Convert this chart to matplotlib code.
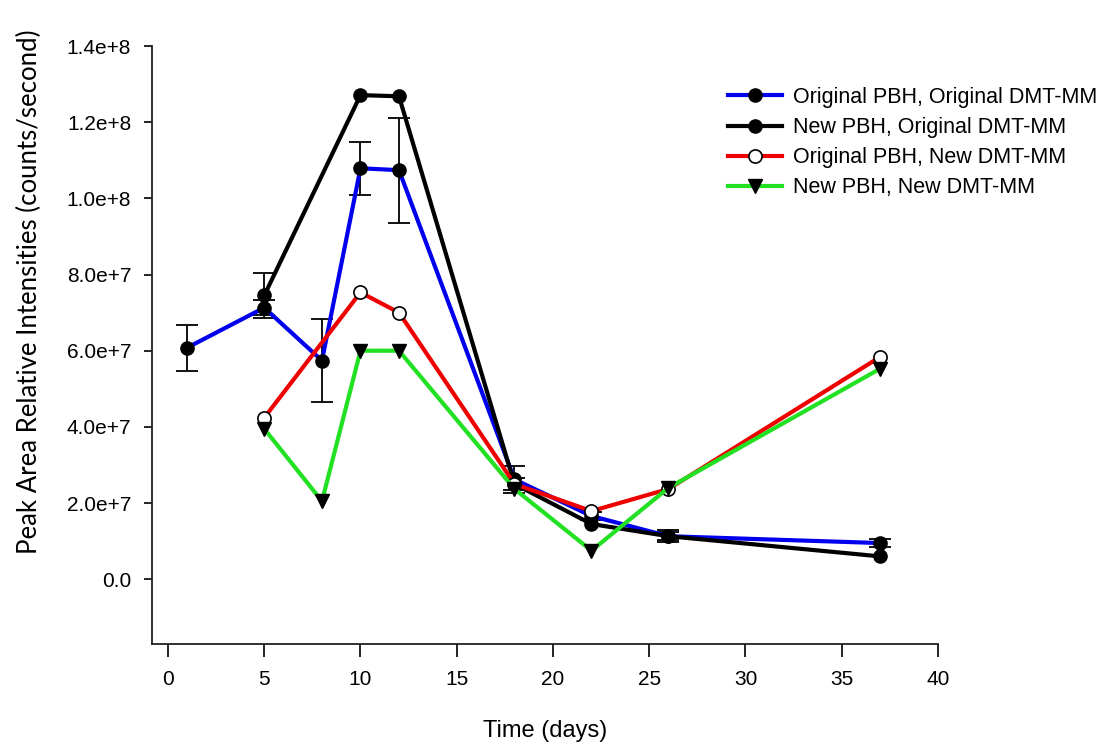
import matplotlib
matplotlib.use("Agg")
import matplotlib.pyplot as plt
import numpy as np

# ---- data ----
series_names = ["Original PBH, Original DMT-MM", "New PBH, Original DMT-MM",
                "Original PBH, New DMT-MM", "New PBH, New DMT-MM"]

x_blue = [1, 5, 8, 10, 12, 18, 22, 26, 37]
y_blue = [6.08e7, 7.13e7, 5.74e7, 1.079e8, 1.074e8, 2.62e7, 1.66e7, 1.13e7, 9.5e6]
e_blue = [0.6e7, 0.2e7, 1.08e7, 0.7e7, 1.38e7, 0.35e7, 0.1e7, 0.15e7, 0.1e7]

x_black = [5, 10, 12, 18, 22, 26, 37]
y_black = [7.45e7, 1.271e8, 1.268e8, 2.5e7, 1.45e7, 1.13e7, 6.0e6]
e_black = [0.6e7, 0, 0, 0.15e7, 0, 0.1e7, 0]

x_red = [5, 10, 12, 18, 22, 26, 37]
y_red = [4.24e7, 7.53e7, 7.0e7, 2.5e7, 1.79e7, 2.37e7, 5.84e7]

x_green = [5, 8, 10, 12, 18, 22, 26, 37]
y_green = [3.95e7, 2.05e7, 6.0e7, 6.0e7, 2.37e7, 7.5e6, 2.4e7, 5.53e7]

x_ticks = [0, 5, 10, 15, 20, 25, 30, 35, 40]
y_ticks = [0, 2e7, 4e7, 6e7, 8e7, 1.0e8, 1.2e8, 1.4e8]
y_tick_labels = ["0.0", "2.0e+7", "4.0e+7", "6.0e+7", "8.0e+7", "1.0e+8", "1.2e+8", "1.4e+8"]

plt.rcParams['font.family'] = ['Liberation Sans', 'DejaVu Sans']

fig = plt.figure(figsize=(11.07, 7.44), dpi=100)
ax = fig.add_axes([152/1107, 1-644/744, (938-152)/1107, (644-46)/744])

lw = 3.0
ms = 9.5
blue = '#0000ee'
red = '#ee0000'
green = '#22e022'


def errs(x, y, e):
    xs = [a for a, c in zip(x, e) if c > 0]
    ys = [b for b, c in zip(y, e) if c > 0]
    es = [c for c in e if c > 0]
    return xs, ys, es


xb, yb, eb = errs(x_blue, y_blue, e_blue)
ax.errorbar(xb, yb, yerr=eb, fmt='none', ecolor='black', elinewidth=1.3,
            capsize=8, capthick=1.3, zorder=1)
xk, yk, ek = errs(x_black, y_black, e_black)
ax.errorbar(xk, yk, yerr=ek, fmt='none', ecolor='black', elinewidth=1.3,
            capsize=8, capthick=1.3, zorder=1)

h1, = ax.plot(x_blue, y_blue, color=blue, lw=lw, marker='o', ms=ms,
              mfc='black', mec='black', label=series_names[0], zorder=2)
h2, = ax.plot(x_black, y_black, color='black', lw=lw, marker='o', ms=ms,
              mfc='black', mec='black', label=series_names[1], zorder=3)
h3, = ax.plot(x_red, y_red, color=red, lw=lw, marker='o', ms=ms, mfc='white', mec='black',
              mew=1.2, label=series_names[2], zorder=4)
h4, = ax.plot(x_green, y_green, color=green, lw=lw, marker='v', ms=ms + 1, mfc='black',
              mec='black', label=series_names[3], zorder=5)

ax.set_xlim(-0.83, 40)
ax.set_ylim(-1.7e7, 1.4e8)
ax.set_xticks(x_ticks)
ax.set_xticklabels([str(t) for t in x_ticks])
ax.set_yticks(y_ticks)
ax.set_yticklabels(y_tick_labels)

for s in ['top', 'right']:
    ax.spines[s].set_visible(False)
for s in ['left', 'bottom']:
    ax.spines[s].set_linewidth(1.3)
    ax.spines[s].set_color('#222222')

ax.tick_params(axis='x', direction='out', length=9, width=1.2, pad=10, labelsize=15)
ax.tick_params(axis='y', direction='out', length=6, width=1.2, pad=9, labelsize=15)

ax.set_xlabel("Time (days)", fontsize=17, labelpad=22)
ax.set_ylabel("Peak Area Relative Intensities (counts/second)", fontsize=18.5,
              family=['Lato', 'DejaVu Sans'])
ax.yaxis.set_label_coords(-0.14, 0.589)

leg = fig.legend([h1, h2, h3, h4], series_names, loc='upper left',
                 bbox_to_anchor=(728/1107, 1-87/744),
                 frameon=False, fontsize=15.5, handlelength=2.5, handletextpad=0.5,
                 labelspacing=0.42, borderaxespad=0, borderpad=0)

fig.savefig("out.png", dpi=100)
